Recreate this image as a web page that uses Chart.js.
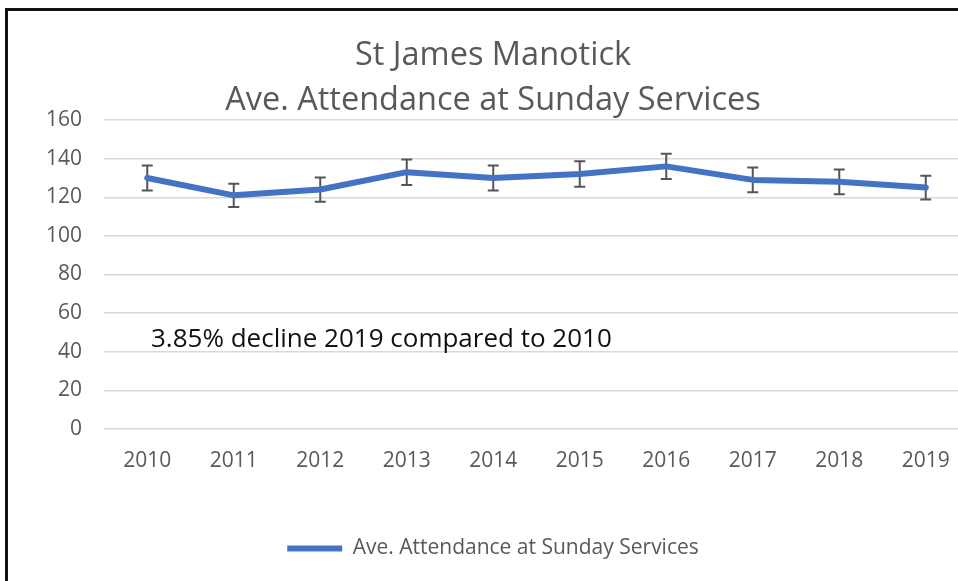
<!DOCTYPE html>
<html>
<head>
<meta charset="utf-8">
<script src="https://cdn.jsdelivr.net/npm/chart.js@4"></script>
<style>
  html, body { margin: 0; padding: 0; background: #fff; width: 958px; height: 581px; overflow: hidden; }
  #frame { position: absolute; left: 5px; top: 8px; width: 2000px; height: 2000px;
           border-top: 3px solid #111; border-left: 3px solid #111; }
  #attendanceChart { position: absolute; left: 17px; top: 0; }
</style>
</head>
<body>
<div id="frame"></div>
<canvas id="attendanceChart" width="952" height="581"></canvas>
<script>
// Chart data
const years = ['2010', '2011', '2012', '2013', '2014', '2015', '2016', '2017', '2018', '2019'];
const attendance = [130, 121, 124, 133, 130, 132, 136, 129, 128, 125];
const errorAmounts = [6.5, 6, 6.3, 6.6, 6.5, 6.6, 6.6, 6.4, 6.4, 6.2];
const titleLines = ['St James Manotick', 'Ave. Attendance at Sunday Services'];
const seriesName = 'Ave. Attendance at Sunday Services';
const noteText = '3.85% decline 2019 compared to 2010';

const fontFamily = '"Open Sans", "Noto Sans", sans-serif';
const grey = '#595959';

// Error bars drawn under the line
const errorBars = {
  id: 'errorBars',
  beforeDatasetsDraw(chart) {
    const { ctx, scales: { x, y } } = chart;
    ctx.save();
    ctx.strokeStyle = '#555555';
    ctx.lineWidth = 2;
    attendance.forEach((v, i) => {
      const px = x.getPixelForValue(i);
      const top = y.getPixelForValue(v + errorAmounts[i]);
      const bottom = y.getPixelForValue(v - errorAmounts[i]);
      ctx.beginPath();
      ctx.moveTo(px, top); ctx.lineTo(px, bottom);
      ctx.moveTo(px - 5.5, top); ctx.lineTo(px + 5.5, top);
      ctx.moveTo(px - 5.5, bottom); ctx.lineTo(px + 5.5, bottom);
      ctx.stroke();
    });
    ctx.restore();
  }
};

// Text box inside the plot
const note = {
  id: 'note',
  afterDraw(chart) {
    const { ctx, chartArea, scales: { y } } = chart;
    ctx.save();
    ctx.font = '26px ' + fontFamily;
    ctx.fillStyle = '#111';
    ctx.textBaseline = 'middle';
    ctx.fillText(noteText, chartArea.left + 47, y.getPixelForValue(46.5));
    ctx.restore();
  }
};

const ctx = document.getElementById('attendanceChart').getContext('2d');
new Chart(ctx, {
  type: 'line',
  data: {
    labels: years,
    datasets: [{
      label: seriesName,
      data: attendance,
      borderColor: '#4472C4',
      backgroundColor: '#4472C4',
      borderWidth: 6,
      borderCapStyle: 'round',
      borderJoinStyle: 'round',
      pointRadius: 0,
      pointStyle: 'line',
      tension: 0
    }]
  },
  options: {
    responsive: false,
    animation: false,
    layout: { padding: { top: 33, bottom: 12, left: 0, right: 0 } },
    plugins: {
      title: {
        display: true,
        text: titleLines,
        color: grey,
        font: { family: fontFamily, size: 32.5, weight: 'normal', lineHeight: 1.385 },
        padding: { top: 0, bottom: -3 }
      },
      legend: {
        position: 'bottom',
        labels: {
          color: grey,
          font: { family: fontFamily, size: 21 },
          usePointStyle: true,
          pointStyle: 'line',
          pointStyleWidth: 55,
          padding: 10
        }
      },
      tooltip: { enabled: false }
    },
    scales: {
      x: {
        offset: true,
        grid: { display: false, drawTicks: false },
        border: { display: false },
        ticks: { color: grey, font: { family: fontFamily, size: 21 }, padding: 19, maxRotation: 0 },
        afterFit(scale) { scale.height = 99; }
      },
      y: {
        min: 0,
        max: 160,
        ticks: { stepSize: 20, color: grey, font: { family: fontFamily, size: 21 }, padding: 22 },
        grid: { color: '#d9d9d9', lineWidth: 1.5, drawTicks: false },
        border: { display: false },
        afterFit(scale) { scale.width = 87; }
      }
    }
  },
  plugins: [errorBars, note]
});
</script>
</body>
</html>
